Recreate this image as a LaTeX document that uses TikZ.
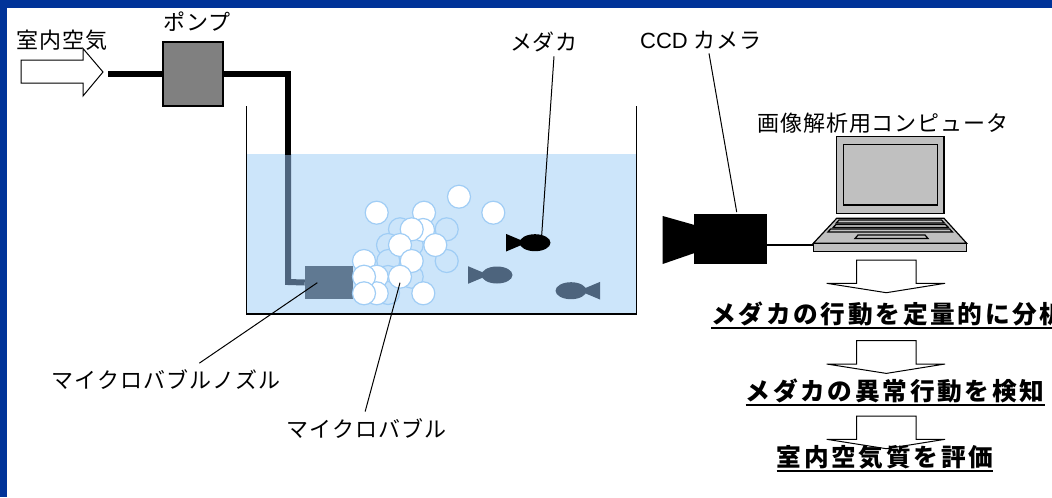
\documentclass[tikz,border=0pt]{standalone}
\usepackage{fontspec}
\setmainfont{Liberation Sans}
\newfontfamily\jpfont[LetterSpace=4.5]{Noto Sans CJK JP}
\newfontfamily\jpboldfont[LetterSpace=11]{Noto Sans CJK JP}
\usetikzlibrary{calc}

\definecolor{frameblue}{RGB}{0,51,153}
\definecolor{water}{RGB}{204,229,250}
\definecolor{slate}{RGB}{77,100,125}
\definecolor{nozzlegray}{RGB}{96,121,146}
\definecolor{bubbleedge}{RGB}{160,205,245}
\definecolor{pumpgray}{RGB}{128,128,128}
\definecolor{pcgray}{RGB}{192,192,192}

\tikzset{
  lbl/.style={font=\jpfont\fontsize{16.5}{19}\selectfont, inner sep=0pt},
  steplbl/.style={font=\jpboldfont\bfseries\fontsize{18.5}{21}\selectfont, inner sep=0pt},
  leader/.style={line width=0.75pt},
  hollow/.style={draw, fill=white, line width=0.75pt, line join=miter},
  bubble/.style={fill=white, draw=bubbleedge, line width=0.9pt},
  ghostbubble/.style={fill=water, draw=bubbleedge, line width=0.9pt},
  fish/.pic={
    \fill (-14,-8.8) -- (1,-2.5) -- (1,2.5) -- (-14,8.8) -- cycle;
    \fill (15,0) ellipse [x radius=15.5, y radius=8.5];
  }
}

\begin{document}
\begin{tikzpicture}[x=0.75pt, y=-0.75pt]
    \useasboundingbox (0,0) rectangle (1052,497);

    % Frame bars
    \fill[frameblue] (0,0) rectangle (1052,8);
    \fill[frameblue] (0,0) rectangle (7,497);

    % Water
    \fill[water] (246.7,154) rectangle (636.7,314);

    % Parts under the water
    \node[fill=nozzlegray, minimum width=36pt, minimum height=24.75pt, inner sep=0pt] (nozzle) at (329,282.5) {};
    \draw[slate, line width=4.5pt] (288,154) -- (288,282) -- (nozzle.west);
    \pic[slate] at (482,275) {fish};
    \pic[slate, xscale=-1] at (586,290.7) {fish};
    \foreach \bx/\by in {400/229.3, 446.7/229.3, 388/245, 411.7/245, 446.7/261, 388.3/261, 411.7/276.7, 388/277, 388/293}
        \draw[ghostbubble] (\bx,\by) circle [radius=11.5];

    % Air inlet and pump
    \draw[hollow] (21,60) -- (83,60) -- (83,48.5) -- (103,72) -- (83,96) -- (83,83) -- (21,83) -- cycle;
    \node[lbl] (airlbl) at (62,40) {室内空気};
    \node[draw, fill=pumpgray, line width=0.9pt, minimum width=45pt, minimum height=48pt, inner sep=0pt] (pump) at (193,74) {};
    \node[lbl] (pumplbl) at (197,22) {ポンプ};
    \draw[line width=4.5pt] (108,74) -- (pump.west);
    \draw[line width=4.5pt] (pump.east) -- (288,74) -- (288,154.5);

    % Micro bubbles
    \foreach \bx/\by in {376.7/212.7, 459/196.7, 493.3/212.7, 424/212.7, 423/230, 411.7/229.3, 400/245, 435.3/245, 411.7/261, 364/261, 376.7/276.7, 376.7/293.3, 364/276.7, 364/293.3, 400/276.7, 423.3/293.3}
        \draw[bubble] (\bx,\by) circle [radius=11.5];

    % Medaka at the surface
    \pic[black] at (520,242.7) {fish};

    % Tank
    \draw[line width=1.1pt] (246.7,106) -- (246.7,314) -- (636.7,314) -- (636.7,106);

    % Labels in the tank
    \node[lbl] (fishlbl) at (544,42) {メダカ};
    \coordinate (fishtop) at (541.7,235);
    \draw[leader] ([xshift=7.5pt,yshift=-3pt]fishlbl.south) -- (fishtop);
    \node[lbl] (nozzlelbl) at (166,380) {マイクロバブルノズル};
    \coordinate (nozzlept) at (317.3,282.7);
    \draw[leader] ([xshift=25pt,yshift=5pt]nozzlelbl.north) -- (nozzlept);
    \node[lbl] (bubblelbl) at (366.5,429) {マイクロバブル};
    \coordinate (bubblept) at (400,282.7);
    \draw[leader] ([xshift=-1pt,yshift=5.5pt]bubblelbl.north) -- (bubblept);

    % CCD camera
    \node[fill=black, minimum width=54.3pt, minimum height=37.5pt, inner sep=0pt] (cam) at (730.5,239) {};
    \fill (694.5,225) -- (662.7,216) -- (662.7,264) -- (694.5,253) -- cycle;
    \node[lbl] (camlbl) at (701,40) {{\rmfamily CCD} カメラ};
    \coordinate (camtop) at (736.7,212);
    \draw[leader] ([xshift=6pt,yshift=-3pt]camlbl.south) -- (camtop);

    % Laptop
    \node[lbl] (pclbl) at (883,123) {画像解析用コンピュータ};
    \filldraw[fill=pcgray, line width=0.9pt] (836.7,136.7) rectangle (944,213.3);
    \filldraw[fill=pcgray, line width=0.9pt] (843.3,144.3) rectangle (937.7,205);
    \filldraw[fill=pcgray, line width=0.9pt] (836.7,218.3) -- (944,218.3) -- (966.7,243.3) -- (813.3,243.3) -- cycle;
    \filldraw[fill=pcgray, line width=0.9pt] (839,220) -- (941.5,220) -- (944.3,223) -- (836.3,223) -- cycle;
    \filldraw[fill=pcgray, line width=0.9pt] (835.9,224.5) -- (945.6,224.5) -- (948.4,227.5) -- (833.1,227.5) -- cycle;
    \filldraw[fill=pcgray, line width=0.9pt] (830.7,229) -- (949.7,229) -- (952.4,232) -- (827.9,232) -- cycle;
    \filldraw[fill=pcgray, line width=0.9pt] (858,235) -- (925,235) -- (928,238.5) -- (855,238.5) -- cycle;
    \node[draw, fill=pcgray, line width=0.9pt, minimum width=115pt, minimum height=6.3pt, inner sep=0pt] (pcbase) at (890,247.5) {};
    \coordinate (plug) at (813.3,245);
    \draw[line width=2.2pt] (plug) -- (plug -| cam.east);

    % Analysis steps
    \foreach \ty in {260,340.7,416}
        \draw[hollow] (856.7,\ty) -- (916,\ty) -- (916,\ty+23.3) -- (945,\ty+23.3) -- (886.3,\ty+32.7) -- (826.7,\ty+23.3) -- (856.7,\ty+23.3) -- cycle;
    \node[steplbl] (step1) at (888,314) {メダカの行動を定量的に分析};
    \node[steplbl] (step2) at (895,391) {メダカの異常行動を検知};
    \node[steplbl] (step3) at (885,457) {室内空気質を評価};
    \foreach \s in {step1,step2,step3}
        \draw[line width=1.5pt] ([yshift=-3.5pt]\s.base west) -- ([yshift=-3.5pt]\s.base east);
\end{tikzpicture}
\end{document}
